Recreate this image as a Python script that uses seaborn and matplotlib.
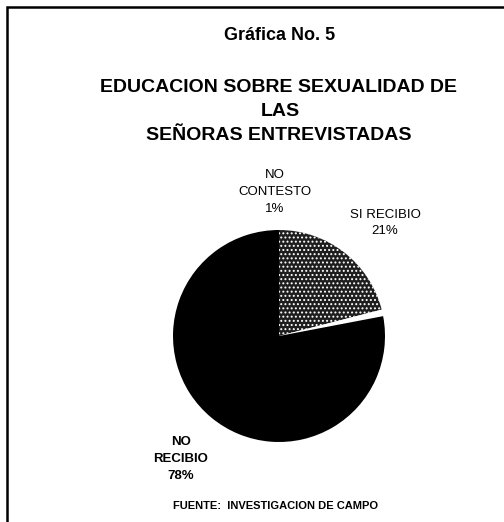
import matplotlib
matplotlib.use("Agg")
import matplotlib.pyplot as plt
import seaborn as sns
from matplotlib.patches import Rectangle

# datos de la grafica
categorias = ["SI RECIBIO", "NO CONTESTO", "NO RECIBIO"]
porcentajes = [21, 1, 78]
colores = ["#1e1e1e", "white", "black"]
texturas = ["....", None, None]

sns.set_style("white")
plt.rcParams['font.family'] = ['Liberation Sans', 'DejaVu Sans']
plt.rcParams['text.color'] = 'black'
plt.rcParams['hatch.linewidth'] = 0.9

W, H = 504, 522
fig = plt.figure(figsize=(W / 100, H / 100), dpi=100)

def px(x, y):
    return x / W, 1 - y / H

# marco de la grafica
fig.patches.append(Rectangle(px(7, 600), 1.2, (600 - 7) / H, transform=fig.transFigure,
                             fill=False, edgecolor="black", linewidth=1.8))

# pastel: centro (279, 336), radio 106 px
cx, cy, r = 279, 336, 106
ax = fig.add_axes([(cx - r) / W, 1 - (cy + r) / H, 2 * r / W, 2 * r / H])
wedges, _ = ax.pie(porcentajes, colors=colores, startangle=90, counterclock=False,
                   radius=1, wedgeprops=dict(linewidth=0))
for w, t in zip(wedges, texturas):
    if t:
        w.set_hatch(t)
        w.set_edgecolor("white")
ax.set_xlim(-1, 1)
ax.set_ylim(-1, 1)
ax.set_aspect('equal')
ax.axis('off')

# titulos
fig.text(*px(280, 36), "Gráfica No. 5", ha="center", va="center",
         fontsize=13, fontweight="bold")
fig.text(*px(278, 88), "EDUCACION SOBRE SEXUALIDAD DE", ha="center", va="center",
         fontsize=14, fontweight="bold")
fig.text(*px(280, 112), "LAS", ha="center", va="center",
         fontsize=14, fontweight="bold")
fig.text(*px(279, 136), "SEÑORAS ENTREVISTADAS", ha="center", va="center",
         fontsize=14, fontweight="bold")

# etiquetas de los sectores
etiquetas = {
    "NO CONTESTO": ((275, 192), "NO\nCONTESTO\n{}%", "normal"),
    "SI RECIBIO": ((385, 223), "SI RECIBIO\n{}%", "normal"),
    "NO RECIBIO": ((181, 459), "NO\nRECIBIO\n{}%", "bold"),
}
for cat, val in zip(categorias, porcentajes):
    (x, y), fmt, peso = etiquetas[cat]
    fig.text(*px(x, y), fmt.format(val), ha="center", va="center",
             fontsize=9.5, fontweight=peso, linespacing=1.55)

fig.text(*px(276, 506), "FUENTE:  INVESTIGACION DE CAMPO", ha="center", va="center",
         fontsize=8, fontweight="bold")

fig.savefig("out.png", dpi=100)
